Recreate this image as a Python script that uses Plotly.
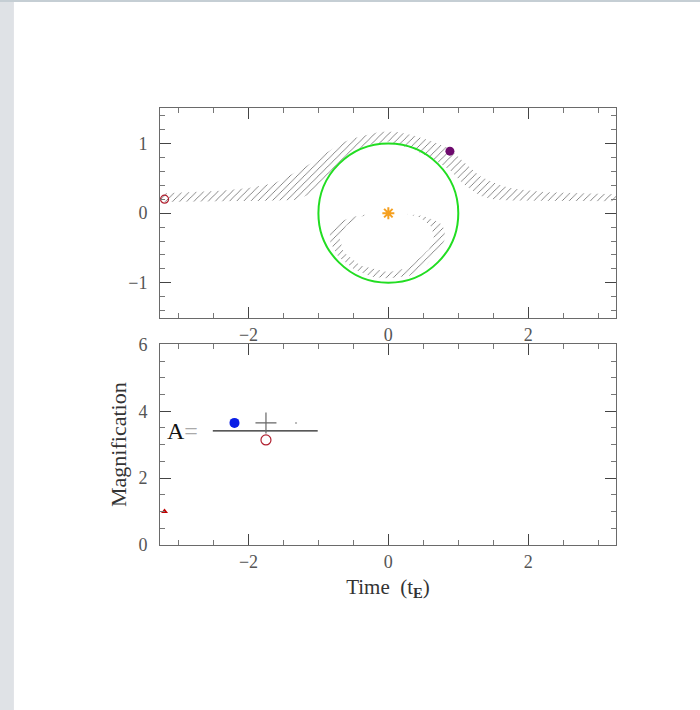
import plotly.graph_objects as go

# ---------------- data ----------------
# Upper image track (major image), hatched band
band_top_x = [-3.3, -2.8, -2.39, -2.0, -1.63, -1.34, -1.10, -0.86, -0.67, -0.48, -0.30, -0.12, 0.10, 0.35, 0.60, 0.88, 1.07, 1.31, 1.55, 1.78, 2.26, 2.8, 3.3]
band_top_y = [0.28, 0.30, 0.32, 0.36, 0.43, 0.58, 0.72, 0.88, 1.01, 1.08, 1.13, 1.17, 1.17, 1.12, 1.04, 0.93, 0.74, 0.53, 0.42, 0.35, 0.30, 0.28, 0.27]
band_bot_x = [3.3, 2.8, 2.26, 1.78, 1.50, 1.31, 1.07, 0.88, 0.67, 0.35, 0.0, -0.30, -0.48, -0.67, -0.86, -1.10, -1.34, -1.63, -2.39, -3.3]
band_bot_y = [0.17, 0.17, 0.17, 0.18, 0.20, 0.25, 0.42, 0.62, 0.76, 0.92, 1.03, 0.98, 0.90, 0.76, 0.55, 0.28, 0.19, 0.18, 0.17, 0.16]

# Lower image track (minor image), hatched loop
loop_outer_x = [-0.25, -0.50, -0.72, -0.84, -0.83, -0.72, -0.50, -0.25, 0.0, 0.30, 0.55, 0.72, 0.80, 0.81, 0.73, 0.50, 0.25]
loop_outer_y = [-0.01, -0.05, -0.13, -0.25, -0.42, -0.62, -0.80, -0.91, -0.94, -0.90, -0.74, -0.55, -0.40, -0.24, -0.13, -0.04, -0.01]
loop_inner_x = [0.45, 0.62, 0.65, 0.58, 0.30, 0.0, -0.40, -0.64, -0.70, -0.60, -0.45, -0.25]
loop_inner_y = [-0.06, -0.20, -0.35, -0.52, -0.78, -0.85, -0.75, -0.56, -0.35, -0.18, -0.07, -0.01]

einstein_radius = 1.0
lens_x, lens_y = [0.0], [0.0]
source_x, source_y = [-3.2], [0.2]
image_x, image_y = [0.88], [0.89]

# Lower panel
mag_t, mag_a = [-3.2], [1.0]
frac_line_x = [-2.51, -1.01]
frac_line_y = [3.41, 3.41]
num_dot_x, num_dot_y = [-2.20], [3.65]
num_plus_x, num_plus_y = [-1.75], [3.65]
num_tiny_x, num_tiny_y = [-1.32], [3.65]
den_x, den_y = [-1.75], [3.14]

xrange_ = [-3.265, 3.255]
top_yrange = [-1.51, 1.51]
bot_yrange = [0, 6]

SERIF = "Liberation Serif, DejaVu Serif, serif"
AX = "#6a6a6a"

fig = go.Figure()

hatch = dict(shape="/", fgcolor="#727272", bgcolor="rgba(0,0,0,0)", size=5, solidity=0.17, fillmode="replace")

fig.add_trace(go.Scatter(
    x=band_top_x + band_bot_x, y=band_top_y + band_bot_y,
    mode="lines", line=dict(width=0), fill="toself",
    fillcolor="rgba(0,0,0,0)", fillpattern=hatch,
    xaxis="x", yaxis="y", hoverinfo="skip"))
fig.add_trace(go.Scatter(
    x=loop_outer_x + loop_inner_x, y=loop_outer_y + loop_inner_y,
    mode="lines", line=dict(width=0), fill="toself",
    fillcolor="rgba(0,0,0,0)", fillpattern=hatch,
    xaxis="x", yaxis="y", hoverinfo="skip"))

# markers top
fig.add_trace(go.Scatter(x=lens_x, y=lens_y, mode="markers",
    marker=dict(symbol="asterisk-open", size=10, color="#f5a020", line=dict(width=2, color="#f5a020")),
    xaxis="x", yaxis="y"))
fig.add_trace(go.Scatter(x=lens_x, y=lens_y, mode="markers",
    marker=dict(symbol="circle", size=5, color="#f5a020"),
    xaxis="x", yaxis="y"))
fig.add_trace(go.Scatter(x=source_x, y=source_y, mode="markers",
    marker=dict(symbol="circle-open", size=8, color="#b02030", line=dict(width=1.2, color="#b02030")),
    xaxis="x", yaxis="y"))
fig.add_trace(go.Scatter(x=image_x, y=image_y, mode="markers",
    marker=dict(symbol="circle", size=9, color="#6e0a6e"),
    xaxis="x", yaxis="y"))

# bottom panel
fig.add_trace(go.Scatter(x=mag_t, y=mag_a, mode="markers",
    marker=dict(symbol="triangle-up", size=6, color="#c00000"),
    xaxis="x2", yaxis="y2"))
fig.add_trace(go.Scatter(x=frac_line_x, y=frac_line_y, mode="lines",
    line=dict(color="#222222", width=1.2), xaxis="x2", yaxis="y2"))
fig.add_trace(go.Scatter(x=num_dot_x, y=num_dot_y, mode="markers",
    marker=dict(symbol="circle", size=10, color="#0a1ee6"), xaxis="x2", yaxis="y2"))
fig.add_trace(go.Scatter(x=num_plus_x, y=num_plus_y, mode="markers",
    marker=dict(symbol="cross-thin-open", size=15, color="#666666", line=dict(width=1.2, color="#666666")),
    xaxis="x2", yaxis="y2"))
fig.add_trace(go.Scatter(x=num_tiny_x, y=num_tiny_y, mode="markers",
    marker=dict(symbol="square", size=2, color="#bbbbbb"), xaxis="x2", yaxis="y2"))
fig.add_trace(go.Scatter(x=den_x, y=den_y, mode="markers",
    marker=dict(symbol="circle-open", size=10, color="#b02030", line=dict(width=1.2, color="#b02030")),
    xaxis="x2", yaxis="y2"))

def xax(anchor):
    return dict(range=xrange_, anchor=anchor, showline=True, linecolor=AX, linewidth=1,
                mirror="allticks", ticks="inside", ticklen=11, tickwidth=1, tickcolor="#444",
                dtick=2, tick0=0, showgrid=False, zeroline=False,
                minor=dict(dtick=0.5, tick0=0, ticks="inside", ticklen=5, tickcolor="#777", showgrid=False),
                tickfont=dict(family=SERIF, size=18, color="#555"), ticklabelstandoff=0)

def yax(anchor, domain, rng, dt, mdt):
    return dict(range=rng, domain=domain, anchor=anchor, showline=True, linecolor=AX, linewidth=1,
                mirror="allticks", ticks="inside", ticklen=11, tickwidth=1, tickcolor="#444",
                dtick=dt, tick0=0, showgrid=False, zeroline=False,
                minor=dict(dtick=mdt, tick0=0, ticks="inside", ticklen=5, tickcolor="#777", showgrid=False),
                tickfont=dict(family=SERIF, size=18, color="#555"), ticklabelstandoff=8)

W_PLOT = 615.7 - 160
H_PLOT = 545 - 108

fig.update_layout(
    width=700, height=710,
    margin=dict(l=160, r=84, t=108, b=165, pad=0),
    paper_bgcolor="white", plot_bgcolor="white",
    showlegend=False,
    xaxis=xax("y"),
    yaxis=yax("x", [(545 - 318.3) / H_PLOT, 1.0], top_yrange, 1, 0.2),
    xaxis2=dict(**xax("y2"), title=dict(text="Time  (t<sub><b>E</b></sub>)",
                font=dict(family=SERIF, size=21, color="#333"), standoff=8)),
    yaxis2=dict(**yax("x2", [0, (545 - 344.3) / H_PLOT], bot_yrange, 2, 0.5),
                title=dict(text="Magnification", font=dict(family=SERIF, size=22, color="#333"), standoff=5)),
    shapes=[
        dict(type="circle", xref="x", yref="y",
             x0=-einstein_radius, x1=einstein_radius, y0=-einstein_radius, y1=einstein_radius,
             line=dict(color="#22dd22", width=2)),
        dict(type="rect", xref="paper", yref="paper", layer="below",
             x0=-160 / W_PLOT, x1=(14 - 160) / W_PLOT, y0=-(710 - 545) / H_PLOT, y1=1 + 108 / H_PLOT,
             fillcolor="#dfe2e6", line=dict(width=0)),
        dict(type="rect", xref="paper", yref="paper", layer="below",
             x0=-160 / W_PLOT, x1=1 + 84 / W_PLOT, y0=1 + 106 / H_PLOT, y1=1 + 108 / H_PLOT,
             fillcolor="#c5ced4", line=dict(width=0)),
    ],
    annotations=[
        dict(text="A<span style='color:#aaaaaa'>=</span>", x=-2.95, y=3.41, xref="x2", yref="y2",
             showarrow=False, font=dict(family=SERIF, size=24, color="#111")),
    ],
)

fig.write_html("out.html", config={"displayModeBar": False},
               post_script="document.body.style.margin='0px';")
